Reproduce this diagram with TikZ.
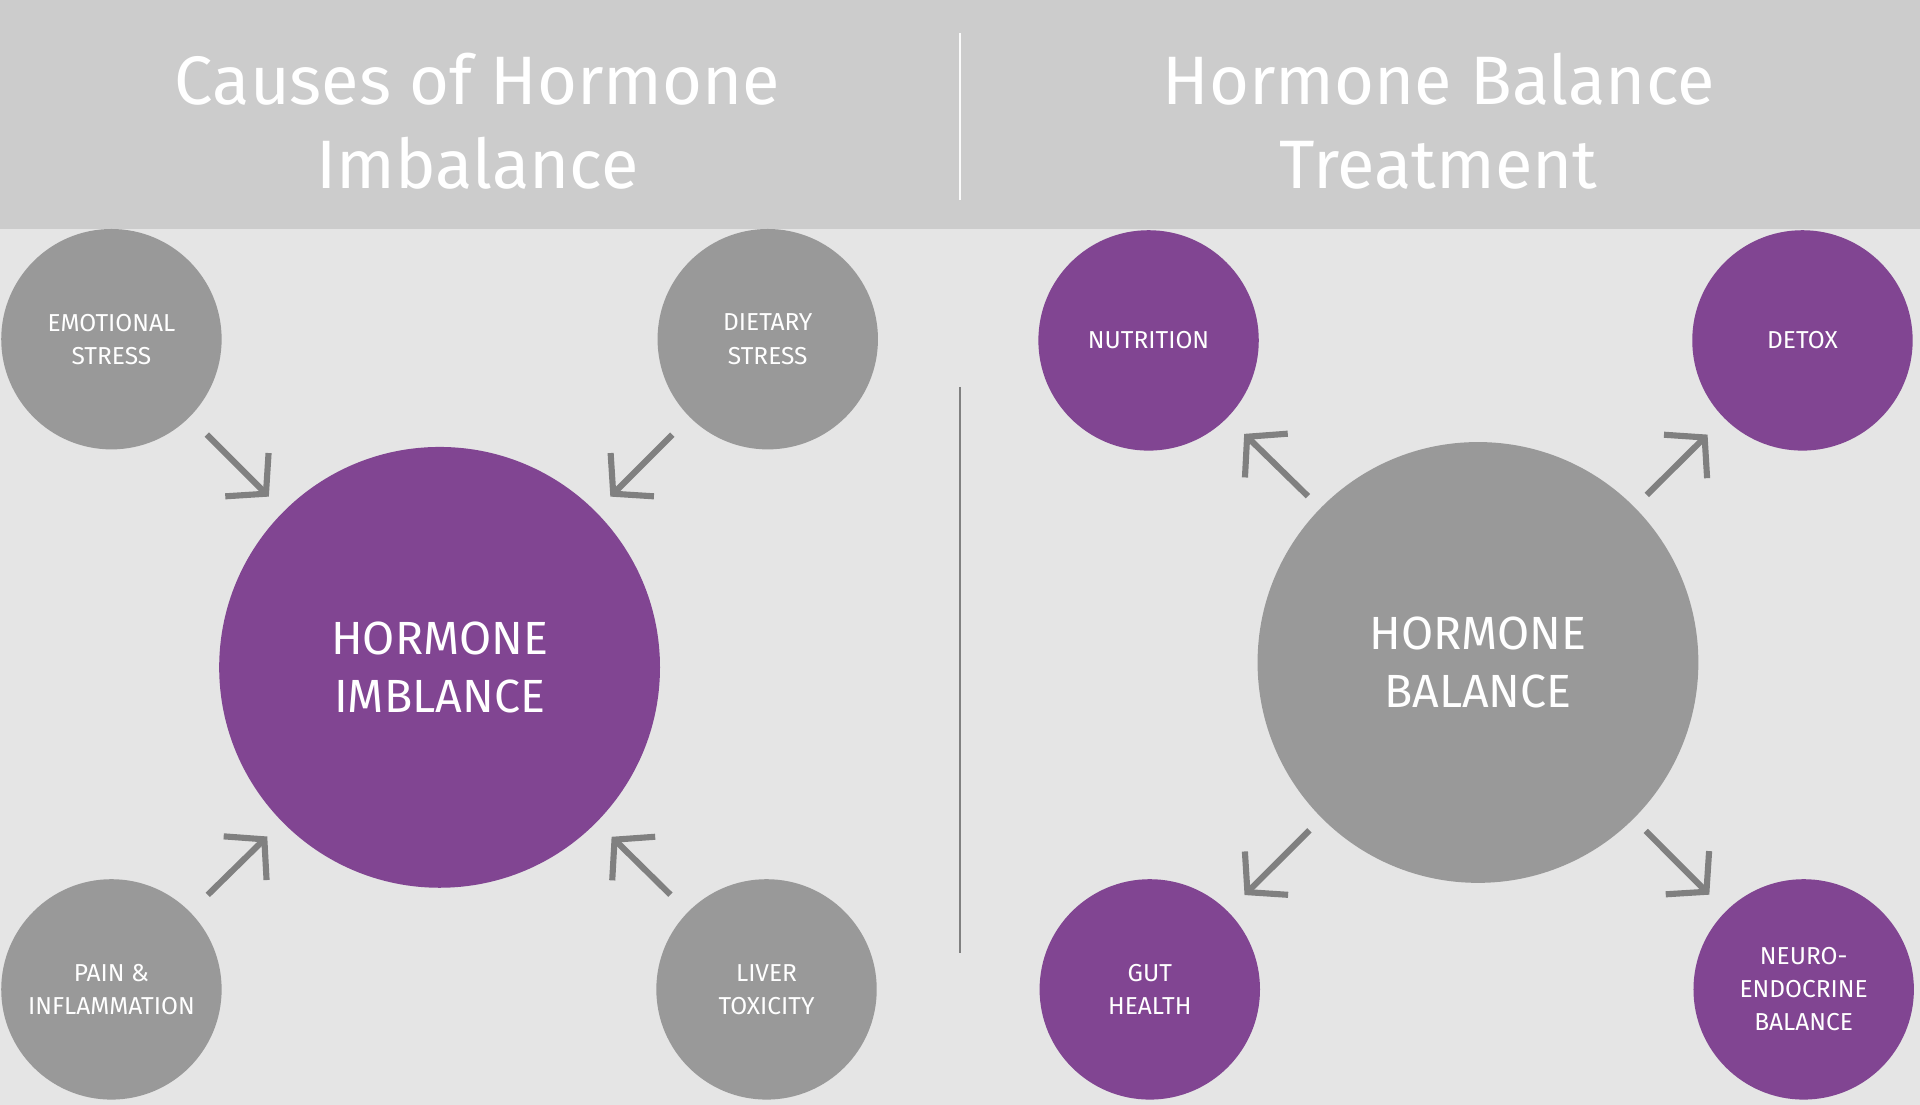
\documentclass[tikz,border=0pt]{standalone}
\usepackage{fontspec}
\setmainfont{Fira Sans}
\usetikzlibrary{arrows.meta}
\definecolor{hdr}{HTML}{CCCCCC}
\definecolor{bg}{HTML}{E5E5E5}
\definecolor{grc}{HTML}{999999}
\definecolor{pur}{HTML}{814592}
\definecolor{arr}{HTML}{808080}
\begin{document}
\begin{tikzpicture}[x=1pt,y=-1pt,
 small/.style={circle,minimum size=180pt,inner sep=0pt,text=white,align=center,font=\fontsize{20}{27}\selectfont},
 big/.style={circle,minimum size=360pt,inner sep=0pt,text=white,align=center,font=\fontsize{38}{47}\selectfont},
 title/.style={text=white,align=center,font=\fontsize{56}{68}\selectfont},
 con/.style={draw=arr,line width=5pt,-{Straight Barb[length=22pt,width=50pt,line width=5pt]},shorten <=20pt,shorten >=17pt}]
\useasboundingbox (0,0) rectangle (1568,902);
\fill[bg] (0,0) rectangle (1568,902);
\fill[hdr] (0,0) rectangle (1568,187);
\draw[white!92!hdr,line width=1pt] (784,27) -- (784,163);
\draw[arr,line width=1pt] (784,316) -- (784,778);
\node[title] (t1) at (390,99) {Causes of Hormone\\Imbalance};
\node[title] (t2) at (1175,99) {Hormone Balance\\Treatment};
\node[big,fill=pur] (hi) at (359,545) {HORMONE\\IMBLANCE};
\node[small,fill=grc] (es) at (91,277) {EMOTIONAL\\STRESS};
\node[small,fill=grc] (ds) at (627,277) {DIETARY\\STRESS};
\node[small,fill=grc] (pi) at (91,808) {PAIN \&\\INFLAMMATION};
\node[small,fill=grc] (lt) at (626,808) {LIVER\\TOXICITY};
\node[big,fill=grc] (hb) at (1207,541) {HORMONE\\BALANCE};
\node[small,fill=pur] (nu) at (938,278) {NUTRITION};
\node[small,fill=pur] (de) at (1472,278) {DETOX};
\node[small,fill=pur] (gh) at (939,808) {GUT\\HEALTH};
\node[small,fill=pur] (ne) at (1473,808) {NEURO-\\ENDOCRINE\\BALANCE};
\draw[con] (es) -- (hi);
\draw[con] (ds) -- (hi);
\draw[con] (pi) -- (hi);
\draw[con] (lt) -- (hi);
\draw[con,shorten <=14pt,shorten >=19pt] (hb) -- (nu);
\draw[con,shorten <=14pt,shorten >=19pt] (hb) -- (de);
\draw[con,shorten <=14pt,shorten >=19pt] (hb) -- (gh);
\draw[con,shorten <=14pt,shorten >=19pt] (hb) -- (ne);
\end{tikzpicture}
\end{document}
